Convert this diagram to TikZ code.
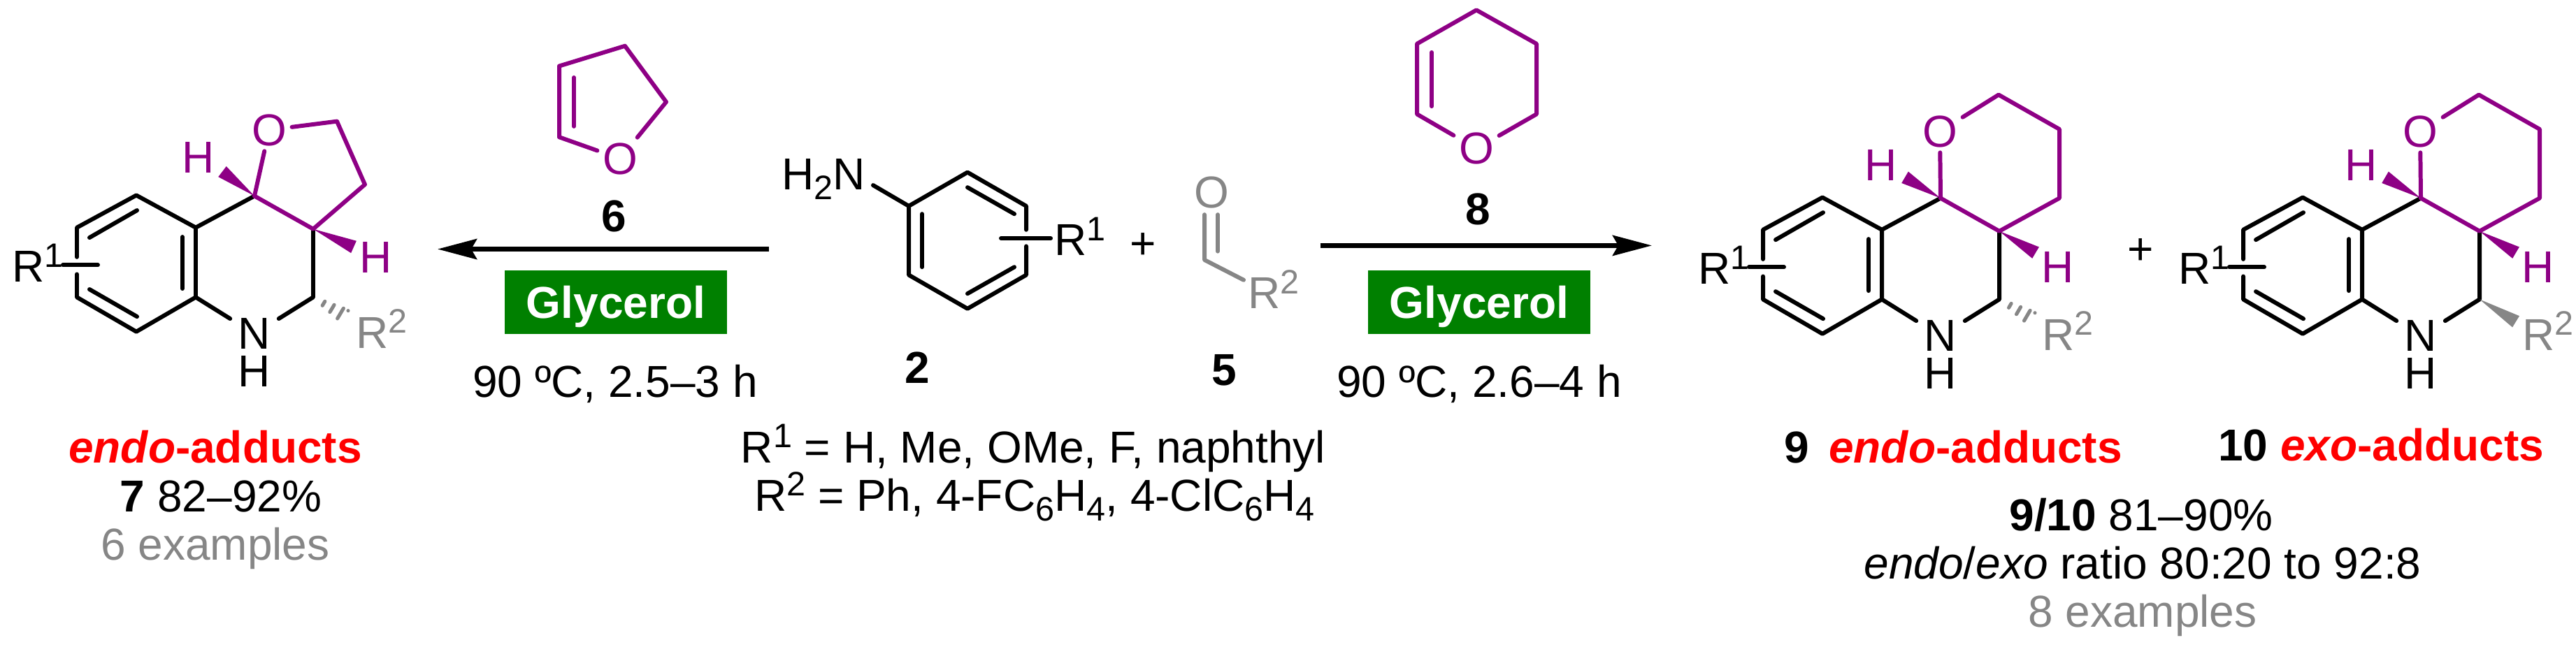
\documentclass[tikz,border=0pt]{standalone}
\usepackage{fontspec}
\setmainfont{Liberation Sans}
\usetikzlibrary{arrows.meta, calc}
\definecolor{ringpurple}{HTML}{8E0085}
\definecolor{solventgreen}{HTML}{008000}
\definecolor{subgray}{HTML}{868686}

\newcommand{\chemsize}{\fontsize{18.2}{20}\selectfont}
\newcommand{\upr}[1]{\raisebox{0.34em}{\fontsize{13.8}{14}\selectfont #1}}
\newcommand{\dnr}[1]{\raisebox{-0.22em}{\fontsize{13.8}{14}\selectfont #1}}

% solid stereo bond: colour, apex, middle of the wide end
\newcommand{\solidbond}[3]{\fill[#1] (#2) -- ($(#3)!0.095cm!90:(#2)$) -- ($(#3)!0.095cm!-90:(#2)$) -- cycle;}
% hashed stereo bond, dashes widen towards the far end
\newcommand{\hashbond}[2]{
    \foreach \t/\w in {0.30/0.035, 0.54/0.06, 0.78/0.085, 1/0.105}{
        \draw[hashline] ($(#1)!\t!(#2)!\w cm!90:(#2)$) -- ($(#1)!\t!(#2)!\w cm!-90:(#2)$);
    }
}
% black benzene part with the NH, shared by the three products
\newcommand{\quinoline}[3]{
    \begin{scope}[shift={(#2,#3)}, name prefix=#1-]
        \coordinate (c1) at (195,272);
        \coordinate (c2) at (110,317);
        \coordinate (c3) at (110,414);
        \coordinate (c4) at (195,462);
        \coordinate (c5) at (280,414);
        \coordinate (c6) at (280,317);
        \coordinate (c7) at (364,273);
        \coordinate (c8) at (448,319);
        \coordinate (c9) at (448,414);
        \coordinate (gapa) at (110,358);
        \coordinate (gapb) at (110,382);
        \coordinate (subl) at (90,369);
        \coordinate (subr) at (140,369);
        \node[atom, inner xsep=0.11cm, inner ysep=0.02cm] (nit) at (364,465) {N};
        \node[atom, inner sep=0pt] (nith) at (364,517) {H};
        \draw[bond] (gapa) -- (c2) -- (c1) -- (c6) -- (c5) -- (c4) -- (c3) -- (gapb);
        \draw[bond] (c6) -- (c7);
        \draw[bond] (c8) -- (c9) -- (nit) -- (c5);
        \draw[bond] (subl) -- (subr);
        \draw[bond] (128,331) -- (196,293);
        \draw[bond] (128,403) -- (196,441);
        \draw[bond] (261,330) -- (261,402);
    \end{scope}
}

\begin{document}
\begin{tikzpicture}[
        x=0.01cm, y=-0.01027cm,
        bond/.style={line width=1.7pt, line cap=round, line join=round},
        purplebond/.style={bond, draw=ringpurple},
        graybond/.style={bond, draw=subgray},
        hashline/.style={line width=1.45pt, line cap=round, draw=subgray},
        atom/.style={inner sep=0.07cm, font=\chemsize},
        purpleatom/.style={atom, text=ringpurple},
        grayatom/.style={atom, text=subgray},
        label/.style={inner sep=0pt, anchor=base, align=center, font=\chemsize},
        boldlabel/.style={label, font=\bfseries\chemsize},
        rgroup/.style={inner sep=0pt, anchor=base west, font=\chemsize},
        solvent/.style={fill=solventgreen, text=white, inner sep=0pt, text depth=0pt, minimum width=3.18cm, minimum height=0.915cm, font=\bfseries\chemsize},
        arrow/.style={line width=1.9pt, -{Stealth[length=0.56cm, width=0.29cm, inset=0.08cm]}}
    ]
    \useasboundingbox (0,0) rectangle (3685,900.7);

    % product 7
    \quinoline{a}{0}{0}
    \node[purpleatom] (a-oxy) at (385,181) {O};
    \coordinate (a-m1) at (482,169);
    \coordinate (a-m2) at (522,257);
    \draw[purplebond] (a-c7) -- (a-oxy);
    \draw[purplebond] (a-oxy) -- (a-m1) -- (a-m2) -- (a-c8) -- (a-c7);
    \node[purpleatom] (a-ha) at (284,219) {H};
    \node[purpleatom] (a-hb) at (538,359) {H};
    \coordinate (a-wa) at (318,239);
    \coordinate (a-wb) at (506,344);
    \solidbond{ringpurple}{a-c7}{a-wa}
    \solidbond{ringpurple}{a-c8}{a-wb}
    \coordinate (a-hash) at (498,443);
    \hashbond{a-c9}{a-hash}
    \node[rgroup] (a-r1) at (17,393) {R\upr{1}};
    \node[rgroup, text=subgray] (a-r2) at (509,485) {R\upr{2}};

    % left arrow with dihydrofuran 6
    \coordinate (f1) at (800,92);
    \coordinate (f2) at (800,191);
    \coordinate (f3) at (894,64);
    \coordinate (f4) at (953,142);
    \node[purpleatom] (foxy) at (887,221) {O};
    \draw[purplebond] (foxy) -- (f2) -- (f1) -- (f3) -- (f4) -- (foxy);
    \draw[purplebond] (821,108) -- (821,176);
    \node[boldlabel] (six) at (878,322.3) {6};
    \coordinate (arrowla) at (1100,347);
    \coordinate (arrowlb) at (626,347);
    \draw[arrow] (arrowla) -- (arrowlb);
    \node[solvent] (solvl) at (881,421) {Glycerol};
    \node[label] (condl) at (880,553) {90 ºC, 2.5–3 h};

    % aniline 2
    \coordinate (b1) at (1300,287);
    \coordinate (b2) at (1384,240);
    \coordinate (b3) at (1468,287);
    \coordinate (b4) at (1468,383);
    \coordinate (b5) at (1384,430);
    \coordinate (b6) at (1300,383);
    \coordinate (gapc) at (1468,320);
    \coordinate (gapd) at (1468,343);
    \coordinate (bsubl) at (1432,332);
    \coordinate (bsubr) at (1503,332);
    \coordinate (nbond) at (1249,258);
    \draw[bond] (gapc) -- (b3) -- (b2) -- (b1) -- (b6) -- (b5) -- (b4) -- (gapd);
    \draw[bond] (nbond) -- (b1);
    \draw[bond] (bsubl) -- (bsubr);
    \draw[bond] (1319,298) -- (1319,372);
    \draw[bond] (1384,261) -- (1451,298);
    \draw[bond] (1384,409) -- (1451,372);
    \node[rgroup] (amine) at (1118,264) {H\dnr{2}N};
    \node[rgroup] (b-r1) at (1508,356) {R\upr{1}};
    \node[label, anchor=center] (plusa) at (1635,343) {+};
    \node[boldlabel] (two) at (1312,533.6) {2};

    % aldehyde 5
    \node[grayatom] (cho) at (1733,268) {O};
    \coordinate (cc) at (1723,362);
    \coordinate (rbond) at (1779,390);
    \draw[graybond] (1723,299) -- (cc) -- (rbond);
    \draw[graybond] (1742,299) -- (1742,350);
    \node[rgroup, text=subgray] (c-r2) at (1785,430) {R\upr{2}};
    \node[boldlabel] (five) at (1751,536.5) {5};
    \node[label] (rone) at (1478,644.8) {R\upr{1} = H, Me, OMe, F, naphthyl};
    \node[label] (rtwo) at (1480,711.8) {R\upr{2} = Ph, 4-FC\dnr{6}H\dnr{4}, 4-ClC\dnr{6}H\dnr{4}};

    % right arrow with dihydropyran 8
    \coordinate (p1) at (2112,14);
    \coordinate (p2) at (2198,61);
    \coordinate (p3) at (2198,159);
    \coordinate (p5) at (2027,159);
    \coordinate (p6) at (2027,61);
    \node[purpleatom] (poxy) at (2112,207) {O};
    \draw[purplebond] (poxy) -- (p3) -- (p2) -- (p1) -- (p6) -- (p5) -- (poxy);
    \draw[purplebond] (2048,73) -- (2048,148);
    \node[boldlabel] (eight) at (2114,312.6) {8};
    \coordinate (arrowra) at (1889,342);
    \coordinate (arrowrb) at (2363,342);
    \draw[arrow] (arrowra) -- (arrowrb);
    \node[solvent] (solvr) at (2116,421) {Glycerol};
    \node[label] (condr) at (2116,553) {90 ºC, 2.6–4 h};

    % products 9 and 10
    \foreach \m/\dx in {d/2412, e/3099}{
        \quinoline{\m}{\dx}{3}
        \begin{scope}[shift={(\dx,0)}, name prefix=\m-]
            \node[purpleatom] (oxy) at (363,183) {O};
            \coordinate (m1) at (447,132);
            \coordinate (m2) at (534,180);
            \coordinate (m3) at (534,276);
            \draw[purplebond] (c7) -- (oxy);
            \draw[purplebond] (oxy) -- (m1) -- (m2) -- (m3) -- (c8) -- (c7);
            \node[purpleatom] (ha) at (279,230) {H};
            \node[purpleatom] (hb) at (532,372) {H};
            \coordinate (wa) at (313,247);
            \coordinate (wb) at (500,352);
            \solidbond{ringpurple}{c7}{wa}
            \solidbond{ringpurple}{c8}{wb}
            \node[rgroup] (r1) at (17,396) {R\upr{1}};
            \node[rgroup, text=subgray] (r2) at (509,488) {R\upr{2}};
            \coordinate (hash) at (499,446);
            \coordinate (tail) at (500,448);
        \end{scope}
    }
    \hashbond{d-c9}{d-hash}
    \solidbond{subgray}{e-c9}{e-tail}
    \node[label, anchor=center] (plusb) at (3062,350) {+};

    % captions
    \node[boldlabel, text=red] (capa) at (308,644.6) {\textit{endo}-adducts};
    \node[label] (capb) at (316,712.8) {\textbf{7} 82–92\%};
    \node[label, text=subgray] (capc) at (308,779.9) {6 examples};
    \node[boldlabel] (capd) at (2794,644.6) {9\, \textcolor{red}{\textit{endo}-adducts}};
    \node[boldlabel] (cape) at (3406,641.7) {10 \textcolor{red}{\textit{exo}-adducts}};
    \node[label] (capf) at (3063,739) {\textbf{9/10} 81–90\%};
    \node[label] (capg) at (3065,806.2) {\textit{endo}/\textit{exo} ratio 80:20 to 92:8};
    \node[label, text=subgray] (caph) at (3065,873.4) {8 examples};
\end{tikzpicture}
\end{document}
